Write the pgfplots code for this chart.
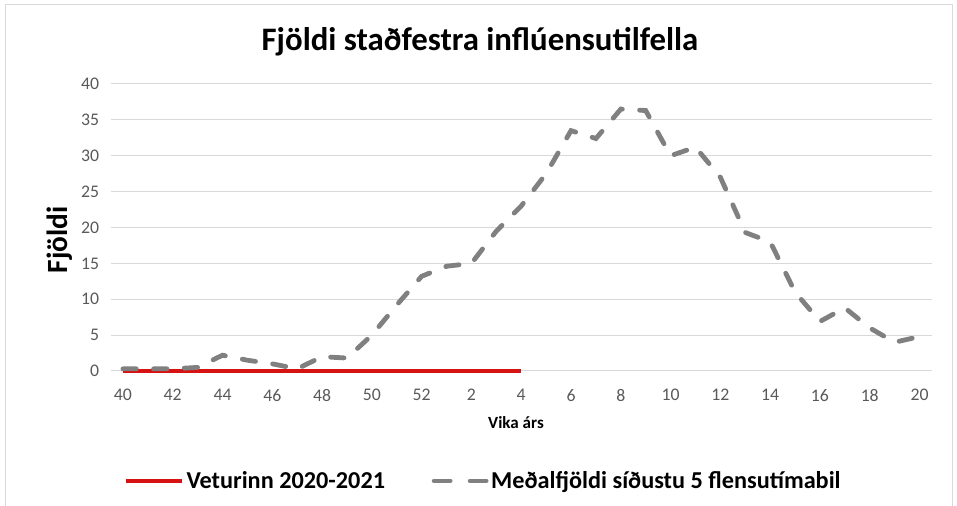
\documentclass[border=0pt]{standalone}
\usepackage{fontspec}
\setmainfont{Carlito}
\usepackage{pgfplots}
\usepackage{pgfplotstable}
\pgfplotsset{compat=1.18}
\definecolor{flured}{RGB}{214,18,18}
\definecolor{flugray}{RGB}{128,128,128}
\definecolor{gridgray}{RGB}{217,217,217}
\definecolor{ticktext}{RGB}{89,89,89}

\pgfplotsset{
  redleg/.style={legend image code/.code={\draw[##1] (0pt,0pt) -- (42pt,0pt);}},
  grayleg/.style={legend image code/.code={\draw[##1, dash pattern=on 12pt off 15pt] (1.8pt,0pt) -- (40.8pt,0pt);}},
}

% weeks 40..52, 1..20 plotted at 0..32
\pgfplotstableread{
idx val
0 0.3
1 0.3
2 0.3
3 0.5
4 2.2
5 1.5
6 1.0
7 0.3
8 2.0
9 1.8
10 5.0
11 9.2
12 13.2
13 14.6
14 15.0
15 19.5
16 23.0
17 27.5
18 33.5
19 32.4
20 36.5
21 36.3
22 30.0
23 31.2
24 27.0
25 19.3
26 18.0
27 11.0
28 6.9
29 8.8
30 6.0
31 4.0
32 4.8
}\avgdata

\pgfplotstableread{
idx val
0 0
1 0
2 0
3 0
4 0
5 0
6 0
7 0
8 0
9 0
10 0
11 0
12 0
13 0
14 0
15 0
16 0
}\winterdata

\begin{document}
\begin{tikzpicture}
\useasboundingbox (0pt,0pt) rectangle (717.75pt,379.5pt);
\draw[gridgray,line width=0.75pt] (3.75pt,-10pt) -- (3.75pt,375.75pt) -- (714pt,375.75pt) -- (714pt,-10pt);
\begin{axis}[
  at={(82.875pt,101.25pt)}, anchor=south west,
  scale only axis,
  width=616.1pt, height=215.25pt,
  xmin=-0.5, xmax=32.5, ymin=0, ymax=40,
  xtick={0,2,...,32},
  xticklabels={40,42,44,46,48,50,52,2,4,6,8,10,12,14,16,18,20},
  ytick={0,5,...,40},
  ymajorgrids=true,
  grid style={draw=gridgray, line width=0.75pt},
  axis line style={draw=none},
  major tick length=0pt,
  tick label style={font=\fontsize{13.3}{16}\selectfont, text=ticktext},
  yticklabel style={xshift=-5pt, /pgf/number format/assume math mode=true},
  xticklabel style={yshift=-10pt},
  legend style={at={(axis description cs:0.454,-0.383)}, anchor=center, draw=none, fill=none,
    legend columns=2, font=\bfseries\fontsize{18.2}{21}\selectfont,
    /tikz/every even column/.append style={column sep=33pt}},
  legend cell align=left,
  clip=false,
]
\addplot[flured, line width=3.2pt, no markers, redleg]
  table[x=idx,y=val] {\winterdata};
\addlegendentry{Veturinn 2020-2021}
\addplot[flugray, line width=3.6pt, no markers, line cap=round, dash pattern=on 10pt off 13pt, grayleg]
  table[x=idx,y=val] {\avgdata};
\addlegendentry{Meðalfjöldi síðustu 5 flensutímabil}
\end{axis}
\node[font=\bfseries\fontsize{24.6}{28}\selectfont] at (360pt,348pt) {Fjöldi staðfestra inflúensutilfella};
\node[font=\bfseries\fontsize{22}{26}\selectfont, rotate=90] at (45pt,199.5pt) {Fjöldi};
\node[font=\bfseries\fontsize{12.8}{15}\selectfont] at (387pt,62.25pt) {Vika árs};
\end{tikzpicture}
\end{document}
